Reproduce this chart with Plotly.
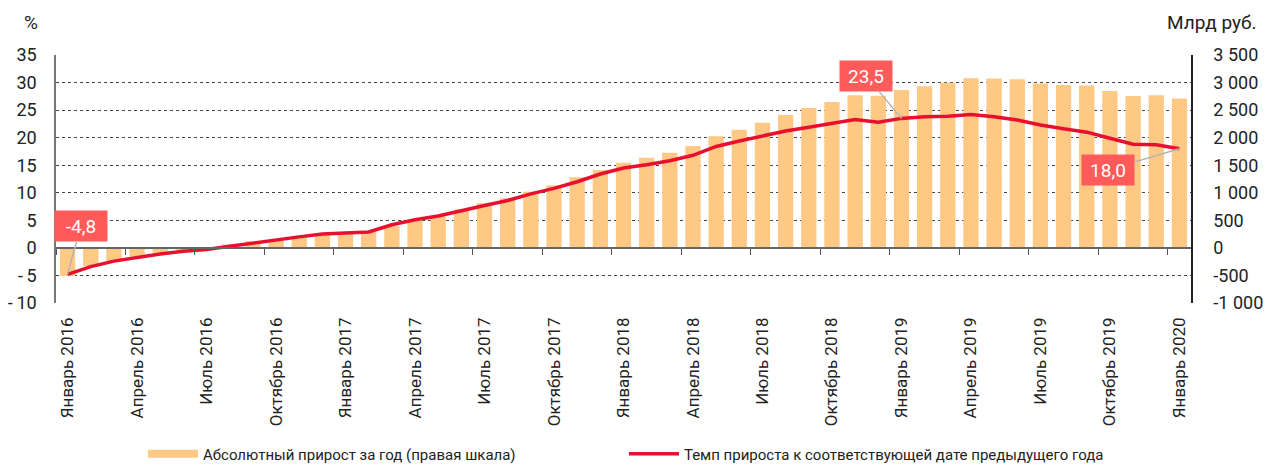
import plotly.graph_objects as go

months_ru = ["Январь", "Февраль", "Март", "Апрель", "Май", "Июнь", "Июль",
             "Август", "Сентябрь", "Октябрь", "Ноябрь", "Декабрь"]
years = [2016, 2017, 2018, 2019, 2020]
categories = [f"{m} {y}" for y in years for m in months_ru][:49]

abs_growth = [-510, -330, -240, -160, -90, -40, 10, 60, 120, 160, 220, 250,
              260, 300, 400, 505, 575, 700, 810, 900, 1020, 1135, 1280, 1415,
              1545, 1635, 1725, 1850, 2025, 2145, 2270, 2410, 2540, 2645, 2770, 2760,
              2865, 2935, 2995, 3080, 3075, 3060, 2985, 2955, 2945, 2845, 2755, 2770,
              2710]

growth_rate = [-4.8, -3.4, -2.4, -1.7, -1.1, -0.6, -0.3, 0.3, 0.9, 1.5, 2.0, 2.5,
               2.7, 2.9, 4.2, 5.1, 5.8, 6.8, 7.7, 8.6, 9.8, 10.8, 12.0, 13.4,
               14.5, 15.1, 15.8, 16.8, 18.4, 19.4, 20.3, 21.2, 21.9, 22.6, 23.3, 22.8,
               23.5, 23.8, 23.9, 24.2, 23.8, 23.2, 22.3, 21.6, 21.0, 19.9, 18.8, 18.7,
               18.0]

left_ticks = [-10, -5, 0, 5, 10, 15, 20, 25, 30, 35]
left_ticktext = ["-\u200910", "-\u20095", "0", "5", "10", "15", "20", "25", "30", "35"]
right_ticks = [-1000, -500, 0, 500, 1000, 1500, 2000, 2500, 3000, 3500]
right_ticktext = ["-1 000", "-500", "0", "500", "1 000", "1 500", "2 000", "2 500", "3 000", "3 500"]

bar_name = "Абсолютный прирост за год (правая шкала)"
line_name = "Темп прироста к соответствующей дате предыдущего года"
highlights = [(0, "-4,8", 13, -48), (36, "23,5", -35, -42), (48, "18,0", -71, 21)]

BAR_C = "#fdc985"
LINE_C = "#e8102e"
BOX_C = "#ff5b5b"
FONT = "Roboto, Arial, sans-serif"

fig = go.Figure()
fig.add_trace(go.Bar(x=categories, y=abs_growth, marker_color=BAR_C, marker_line_width=0,
                     yaxis="y", showlegend=False, name=bar_name))
fig.add_trace(go.Scatter(x=categories, y=growth_rate, mode="lines",
                         line=dict(color=LINE_C, width=3.5), yaxis="y2",
                         showlegend=False, name=line_name))
# legend entries
fig.add_trace(go.Scatter(x=[None], y=[None], mode="lines", line=dict(color=BAR_C, width=8),
                         name=bar_name, yaxis="y"))
fig.add_trace(go.Scatter(x=[None], y=[None], mode="lines", line=dict(color=LINE_C, width=3.5),
                         name=line_name, yaxis="y2"))

for idx, txt, ax, ay in highlights:
    fig.add_annotation(x=categories[idx], y=growth_rate[idx], xref="x", yref="y2",
                       text=txt, showarrow=True, arrowhead=0, arrowwidth=1.5,
                       arrowcolor="#b3b3b3", ax=ax, ay=ay, bgcolor=BOX_C,
                       font=dict(color="white", size=19, family=FONT),
                       width=46, height=24, borderpad=3, standoff=0)

fig.add_annotation(x=0.0, y=1.0, xref="paper", yref="paper", xshift=-25, yshift=33,
                   xanchor="center", yanchor="middle",
                   text="%", showarrow=False, font=dict(size=19, color="#222", family=FONT))
fig.add_annotation(x=1.0, y=1.0, xref="paper", yref="paper", xshift=21, yshift=33,
                   xanchor="center", yanchor="middle",
                   text="Млрд руб.", showarrow=False, font=dict(size=19, color="#222", family=FONT))

# the page body has an 8px margin, so the figure is sized/placed to compensate
fig.update_layout(
    width=1263, height=457,
    margin=dict(l=48, r=80, t=47, b=162, autoexpand=False),
    paper_bgcolor="white", plot_bgcolor="white",
    bargap=0.34,
    font=dict(family=FONT, color="#222", size=17),
    xaxis=dict(type="category", range=[-0.5, 48.5], tickmode="linear", tick0=0, dtick=3,
               tickson="boundaries", ticks="outside", ticklen=6, tickcolor="#555",
               tickangle=-90, showgrid=False, anchor="free", position=10 / 45,
               showline=True, linecolor="#666", linewidth=1.5,
               ticklabelstandoff=62, tickfont=dict(size=17), automargin=False),
    yaxis=dict(range=[-1000, 3500], tickvals=right_ticks, ticktext=right_ticktext,
               side="right", showgrid=True, gridcolor="#444", griddash="dot", gridwidth=1,
               zeroline=False, showline=True, linecolor="#222", linewidth=1.5,
               ticks="", ticklabelstandoff=17, tickfont=dict(size=18), automargin=False),
    yaxis2=dict(range=[-10, 35], tickvals=left_ticks, ticktext=left_ticktext,
                side="left", overlaying="y", showgrid=False, zeroline=False,
                showline=True, linecolor="#777", linewidth=1.5, ticks="",
                ticklabelstandoff=14, tickfont=dict(size=18), automargin=False),
    legend=dict(orientation="h", x=0.0766, xanchor="left", y=-0.609, yanchor="middle",
                font=dict(size=15), entrywidth=416, itemwidth=50,
                bgcolor="rgba(0,0,0,0)"),
)

fig.write_html("out.html")
